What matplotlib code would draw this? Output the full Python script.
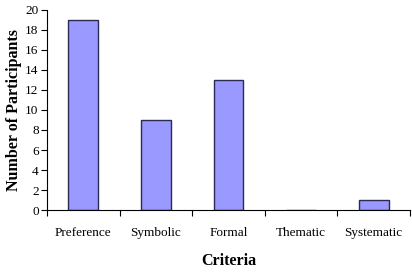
import matplotlib.pyplot as plt
import numpy as np

categories = ['Preference', 'Symbolic', 'Formal', 'Thematic', 'Systematic']
participants = [19, 9, 13, 0, 1]

plt.rcParams['font.family'] = ['Liberation Serif', 'DejaVu Serif']

fig = plt.figure(figsize=(4.12, 2.76), dpi=100)
ax = fig.add_axes([0.114, 0.239, 0.881, 0.725])

x = np.arange(len(categories))
ax.bar(x, participants, width=0.41, color='#9999FF', edgecolor='#2a2a55', linewidth=1.0)

ax.set_xlim(-0.5, len(categories) - 0.5)
ax.set_ylim(0, 20)
ax.set_yticks(range(0, 21, 2))
ax.set_xticks(x)
ax.set_xticklabels(categories, fontsize=9.5)
ax.set_xticks(np.arange(-0.5, len(categories), 1), minor=True)
ax.tick_params(axis='x', which='major', length=0, pad=12)
ax.tick_params(axis='x', which='minor', length=4, direction='out', width=0.8)
ax.tick_params(axis='y', labelsize=9.5, length=4, width=0.8, pad=2)

for side in ['top', 'right']:
    ax.spines[side].set_visible(False)
for side in ['left', 'bottom']:
    ax.spines[side].set_linewidth(0.8)

ax.set_xlabel('Criteria', fontsize=11.5, fontweight='bold', labelpad=10)
ax.set_ylabel('Number of Participants', fontsize=11.5, fontweight='bold', labelpad=2)

plt.savefig('out.png', dpi=100)
